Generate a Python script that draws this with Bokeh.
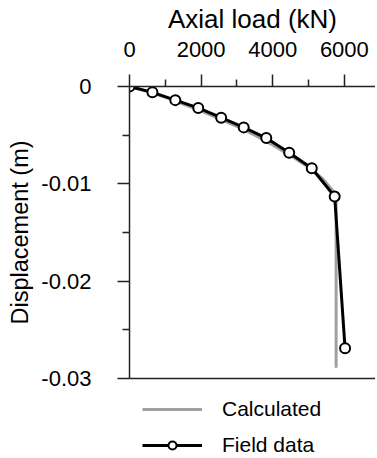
from bokeh.plotting import figure
from bokeh.layouts import column
from bokeh.models import (LinearAxis, FixedTicker, CustomJSTickFormatter, Range1d,
                          Legend, LegendItem)
from bokeh.embed import file_html
from bokeh.resources import INLINE

# Data
load_field = [0, 640, 1280, 1920, 2560, 3190, 3820, 4460, 5090, 5730, 6020]
disp_field = [0, -0.0006, -0.0014, -0.0022, -0.0032, -0.0042, -0.0053, -0.0068, -0.0084, -0.0113, -0.0269]

load_calc = [0, 500, 1000, 1500, 2000, 2500, 3000, 3500, 4000, 4500, 5000, 5400, 5700, 5770, 5770]
disp_calc = [0, -0.0005, -0.0011, -0.0018, -0.0025, -0.0033, -0.0041, -0.0050, -0.0060, -0.0071,
             -0.0083, -0.0095, -0.0108, -0.0113, -0.0289]

x_ticks = [0, 2000, 4000, 6000]
x_minor = [1000, 3000, 5000]
y_ticks = [0, -0.01, -0.02, -0.03]
y_minor = [-0.005, -0.015, -0.025]

FONT = "Liberation Sans"
GRAY = "#a0a0a0"

p = figure(frame_width=246, frame_height=292, output_backend="svg", toolbar_location=None,
           x_axis_location="above", x_range=Range1d(0, 6870), y_range=Range1d(-0.03, 0),
           min_border_left=129, min_border_top=84, min_border_right=0, min_border_bottom=16)
p.grid.visible = False
p.outline_line_color = None

xa = p.xaxis[0]
xa.ticker = FixedTicker(ticks=x_ticks, minor_ticks=x_minor)
xa.axis_label = "Axial load (kN)"
ya = p.yaxis[0]
ya.ticker = FixedTicker(ticks=y_ticks, minor_ticks=y_minor)
ya.formatter = CustomJSTickFormatter(code="return tick == 0 ? '0' : tick.toFixed(2);")
ya.axis_label = "Displacement (m)"

for ax in (xa, ya):
    ax.axis_line_color = "#222222"
    ax.axis_line_width = 1.5
    ax.major_tick_line_color = "#222222"
    ax.major_tick_line_width = 1.5
    ax.minor_tick_line_color = "#222222"
    ax.minor_tick_line_width = 1.5
    ax.major_tick_in = 0
    ax.major_tick_out = 12
    ax.minor_tick_in = 0
    ax.minor_tick_out = 7
    ax.major_label_text_font = FONT
    ax.major_label_text_font_size = "22px"
    ax.major_label_text_color = "black"
    ax.axis_label_text_font = FONT
    ax.axis_label_text_font_style = "normal"
    ax.axis_label_text_color = "black"

xa.axis_label_text_font_size = "26px"
ya.axis_label_text_font_size = "23.5px"
xa.major_label_standoff = 18
xa.axis_label_standoff = 5
ya.major_label_standoff = 26
ya.axis_label_standoff = 5

bottom = LinearAxis(ticker=FixedTicker(ticks=x_ticks, minor_ticks=x_minor))
bottom.major_tick_out = 0
bottom.major_tick_in = 0
bottom.minor_tick_out = 0
bottom.minor_tick_in = 0
bottom.major_label_standoff = 0
bottom.major_label_text_font_size = "0px"
bottom.major_label_text_alpha = 0
bottom.axis_line_color = "#222222"
bottom.axis_line_width = 1.5
p.add_layout(bottom, "below")

p.line(load_calc, disp_calc, line_color=GRAY, line_width=3)
p.line(load_field, disp_field, line_color="black", line_width=3)
p.scatter(load_field, disp_field, size=10, fill_color="white", line_color="black", line_width=2)

# Legend strip below the chart (its renderers lie outside its view range)
q = figure(width=375, height=63, output_backend="svg", toolbar_location=None,
           x_range=Range1d(100000, 100001), y_range=Range1d(1, 2),
           min_border=0)
q.axis.visible = False
q.grid.visible = False
q.outline_line_color = None
lc = q.line(load_calc, disp_calc, line_color=GRAY, line_width=3)
lf = q.line(load_field, disp_field, line_color="black", line_width=3)
ls = q.scatter(load_field, disp_field, size=9, fill_color="white", line_color="black", line_width=2)

legend = Legend(items=[LegendItem(label="Calculated", renderers=[lc]),
                       LegendItem(label="Field data", renderers=[lf, ls])],
                location=(13, 0), orientation="vertical",
                background_fill_alpha=0, border_line_color=None,
                padding=0, margin=0, spacing=12, glyph_width=60, glyph_height=20,
                label_standoff=20, label_text_font=FONT, label_text_font_size="21px",
                label_text_color="black")
q.add_layout(legend, "center")

layout = column(p, q, spacing=0)
open("out.html", "w").write(file_html(layout, INLINE))
